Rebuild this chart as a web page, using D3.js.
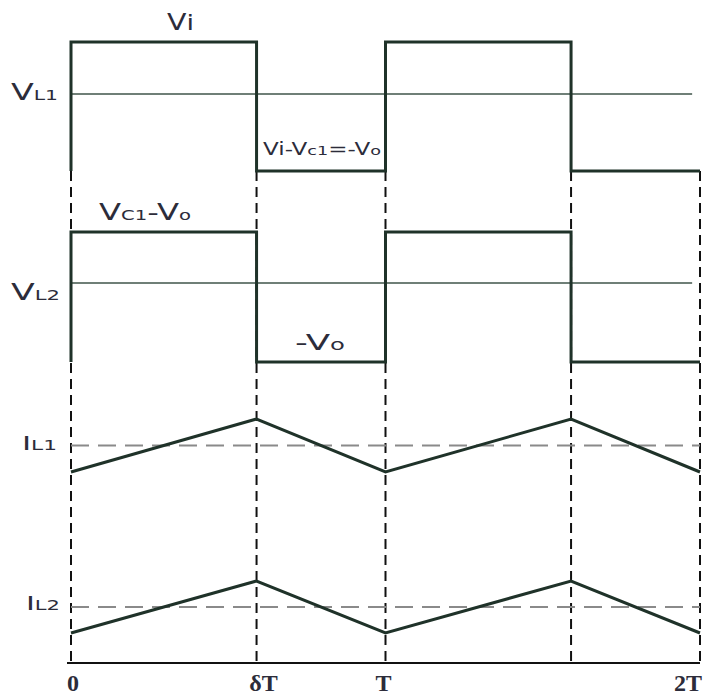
<!DOCTYPE html>
<html>
<head>
<meta charset="utf-8">
<script src="https://cdn.jsdelivr.net/npm/d3@7"></script>
<style>
  body { margin: 0; background: #fff; }
  svg { display: block; }
  .lbl { font-family: "DejaVu Sans", Verdana, sans-serif; fill: #2c2c3a; }
  .tick { font-family: "Liberation Serif", "Times New Roman", serif; font-weight: bold; fill: #2c2c3a; }
</style>
</head>
<body>
<div id="chart"></div>
<script>
// switching instants, in units of T (delta ~ 0.59)
var times = [0, 0.59, 1, 1.59, 2];
var tickLabels = ["0", "δT", "T", "", "2T"];

// inductor voltages: value at t=0, then level held on each interval
var vL1Start = -1.48;
var vL1 = [1, -1.48, 1, -1.48];    // Vi , Vi-Vc1=-Vo
var vL2Start = -1.55;
var vL2 = [1, -1.55, 1, -1.55];    // Vc1-Vo , -Vo

// inductor currents at the switching instants (average = 1)
var iL1 = [0.5, 1.5, 0.5, 1.5, 0.5];
var iL2 = [0.5, 1.5, 0.5, 1.5, 0.5];
var iAvg = 1;

var width = 704, height = 699;

var svg = d3.select("#chart").append("svg")
  .attr("width", width)
  .attr("height", height);

var x = d3.scaleLinear().domain([0, 2]).range([71, 700]);

// one y scale per trace
var yV1 = d3.scaleLinear().domain([-1.48, 1]).range([171, 42]);
var yV2 = d3.scaleLinear().domain([-1.55, 1]).range([362, 232]);
var yI1 = d3.scaleLinear().domain([0.5, 1.5]).range([472, 419]);
var yI2 = d3.scaleLinear().domain([0.5, 1.5]).range([633, 581]);

var waveColor = "#1f3229";
var baseY = 663;

// square wave -> list of [t, v] points
function steps(start, levels) {
  var pts = [[times[0], start]];
  levels.forEach(function (v, i) {
    pts.push([times[i], v]);
    pts.push([times[i + 1], v]);
  });
  return pts;
}

//===============================================
// dashed time markers
svg.append("g").selectAll("line")
  .data(times)
  .enter().append("line")
  .attr("x1", function (d) { return x(d); })
  .attr("x2", function (d) { return x(d); })
  .attr("y1", yV1(-1.48))
  .attr("y2", baseY)
  .attr("stroke", "#111")
  .attr("stroke-width", 2)
  .attr("stroke-dasharray", "10,6");

// zero lines of the voltage traces
[yV1, yV2].forEach(function (y) {
  svg.append("line")
    .attr("x1", x(0)).attr("x2", x(1.975))
    .attr("y1", y(0)).attr("y2", y(0))
    .attr("stroke", "#6f7f77")
    .attr("stroke-width", 2);
});

// average lines of the currents
[yI1, yI2].forEach(function (y) {
  svg.append("line")
    .attr("x1", x(0)).attr("x2", x(2))
    .attr("y1", y(iAvg)).attr("y2", y(iAvg))
    .attr("stroke", "#8a8a8a")
    .attr("stroke-width", 2)
    .attr("stroke-dasharray", "18,9");
});

// baseline
svg.append("line")
  .attr("x1", x(0) - 4).attr("x2", x(2))
  .attr("y1", baseY).attr("y2", baseY)
  .attr("stroke", "#111")
  .attr("stroke-width", 2);

//===============================================
// waveforms
var line = d3.line();

function drawWave(pts, y) {
  svg.append("path")
    .attr("d", line(pts.map(function (p) { return [x(p[0]), y(p[1])]; })))
    .attr("fill", "none")
    .attr("stroke", waveColor)
    .attr("stroke-width", 3)
    .attr("stroke-linejoin", "miter");
}

drawWave(steps(vL1Start, vL1), yV1);
drawWave(steps(vL2Start, vL2), yV2);
drawWave(times.map(function (t, i) { return [t, iL1[i]]; }), yI1);
drawWave(times.map(function (t, i) { return [t, iL2[i]]; }), yI2);

//===============================================
// labels
function label(xp, yp, parts, len) {
  var t = svg.append("text").attr("class", "lbl").attr("x", xp).attr("y", yp);
  parts.forEach(function (p) {
    t.append("tspan").attr("font-size", p[1]).text(p[0]);
  });
  if (len) t.attr("textLength", len).attr("lengthAdjust", "spacingAndGlyphs");
}

label(167, 30, [["V", 23], ["i", 22]], 27);
label(11, 100, [["V", 23], ["L1", 14]], 47);
label(263, 155, [["Vi-V", 17], ["c1", 13], ["=-V", 17], ["o", 13]], 118);
label(99, 220, [["V", 23], ["C1", 14], ["-V", 23], ["o", 14]], 92);
label(11, 300, [["V", 23], ["L2", 14]], 49);
label(295, 350, [["-V", 22], ["o", 15]], 50);
label(22, 450, [["I", 20], ["L1", 14]], 35);
label(26, 610, [["I", 20], ["L2", 14]], 34);

// time axis labels
var tickDx = [2, 7, -2, 0, -12];
svg.append("g").selectAll("text")
  .data(times)
  .enter().append("text")
  .attr("class", "tick")
  .attr("x", function (d, i) { return x(d) + tickDx[i]; })
  .attr("y", 691)
  .attr("text-anchor", "middle")
  .attr("font-size", 24)
  .text(function (d, i) { return tickLabels[i]; });
</script>
</body>
</html>
